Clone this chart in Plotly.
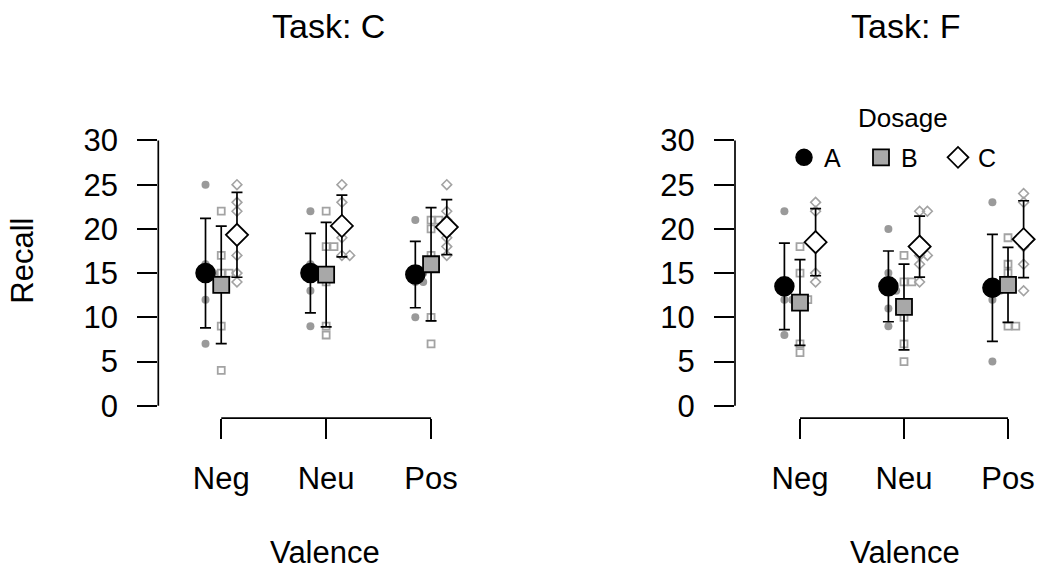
import plotly.graph_objects as go

valence = ["Neg", "Neu", "Pos"]
dosage = ["A", "B", "C"]

# Task C: individual observations per valence (Neg, Neu, Pos)
pts_C_A = [[25, 16, 15, 15, 12, 7], [22, 16, 15, 15, 13, 9], [21, 15, 15, 14, 14, 10]]
pts_C_B = [[22, 17, 15, 15, 9, 4], [22, 18, 18, 14, 9, 8], [21, 21, 20, 17, 10, 7]]
pts_C_C = [[25, 23, 22, 17, 15, 14], [25, 23, 21, 19, 17, 17], [25, 22, 21, 19, 18, 17]]
mean_C_A = [15.0, 15.0, 14.83]
mean_C_B = [13.67, 14.83, 16.0]
mean_C_C = [19.33, 20.33, 20.2]
ci_C_A = [6.2, 4.5, 3.75]
ci_C_B = [6.65, 5.9, 6.4]
ci_C_C = [4.8, 3.5, 3.1]

# Task F
pts_F_A = [[22, 14, 13, 12, 12, 8], [20, 15, 13, 13, 11, 9], [23, 14, 13, 13, 12, 5]]
pts_F_B = [[18, 15, 12, 12, 7, 6], [17, 14, 14, 10, 7, 5], [19, 16, 15, 14, 9, 9]]
pts_F_C = [[23, 22, 19, 18, 15, 14], [22, 22, 17, 17, 16, 14], [24, 23, 19, 18, 16, 13]]
mean_F_A = [13.5, 13.5, 13.33]
mean_F_B = [11.67, 11.17, 13.67]
mean_F_C = [18.5, 18.0, 18.83]
ci_F_A = [4.9, 4.0, 6.05]
ci_F_B = [4.85, 4.85, 4.25]
ci_F_C = [3.8, 3.45, 4.35]

FONT = "Liberation Sans, Arial, sans-serif"
dodge = {"A": -0.15, "B": 0.0, "C": 0.15}
swarm_step = 0.075

FW, FH = 1039, 576


def pxx(px):
    return px / FW


def pxy(py):
    return 1 - py / FH


pt_style = {
    "A": dict(symbol="circle", size=8, color="#9a9a9a", line=dict(width=0)),
    "B": dict(symbol="square-open", size=7, color="#a3a3a3", line=dict(width=1.8, color="#a3a3a3")),
    "C": dict(symbol="diamond-open", size=7.5, color="#a3a3a3", line=dict(width=1.6, color="#a3a3a3")),
}
mean_style = {
    "A": dict(symbol="circle", size=19, color="black", line=dict(width=1.5, color="black")),
    "B": dict(symbol="square", size=16, color="#a8a8a8", line=dict(width=1.8, color="black")),
    "C": dict(symbol="diamond", size=17, color="white", line=dict(width=1.8, color="black")),
}

panels = [
    ("x", "y", {"A": pts_C_A, "B": pts_C_B, "C": pts_C_C},
     {"A": mean_C_A, "B": mean_C_B, "C": mean_C_C},
     {"A": ci_C_A, "B": ci_C_B, "C": ci_C_C}, True),
    ("x2", "y2", {"A": pts_F_A, "B": pts_F_B, "C": pts_F_C},
     {"A": mean_F_A, "B": mean_F_B, "C": mean_F_C},
     {"A": ci_F_A, "B": ci_F_B, "C": ci_F_C}, False),
]

fig = go.Figure()

for xa, ya, pts, means, cis, show in panels:
    for d in dosage:
        xs, ys = [], []
        for i, vals in enumerate(pts[d]):
            seen = {}
            for v in vals:
                k = seen.get(v, 0)
                seen[v] = k + 1
                xs.append(i + 1 + dodge[d] + k * swarm_step)
                ys.append(v)
        fig.add_trace(go.Scatter(x=xs, y=ys, mode="markers", marker=pt_style[d],
                                 xaxis=xa, yaxis=ya, showlegend=False, hoverinfo="skip"))
    for d in dosage:
        xs = [i + 1 + dodge[d] for i in range(len(valence))]
        fig.add_trace(go.Scatter(
            x=xs, y=means[d], mode="markers", name=d, marker=mean_style[d],
            error_y=dict(type="data", array=cis[d], visible=True, color="black",
                         thickness=1.7, width=5.5),
            xaxis=xa, yaxis=ya, showlegend=show))

ydom = [pxy(421.7), pxy(119.4)]
yrange = [-1.39, 32.5]

axis_common = dict(showgrid=False, zeroline=False, showline=False, ticks="outside",
                   ticklen=20, tickwidth=1.7, tickcolor="black",
                   tickfont=dict(family=FONT, size=31, color="black"))

fig.update_layout(
    width=FW, height=FH,
    margin=dict(l=0, r=0, t=0, b=0),
    paper_bgcolor="white", plot_bgcolor="white",
    xaxis=dict(domain=[pxx(158.3), pxx(494)], range=[0.4, 3.6], tickvals=[1, 2, 3],
               ticktext=valence, ticklabelstandoff=13, **axis_common),
    yaxis=dict(domain=ydom, range=yrange, tickvals=[0, 5, 10, 15, 20, 25, 30],
               ticklabelstandoff=13, **axis_common),
    xaxis2=dict(domain=[pxx(735), 1.0], range=[0.375, 3.298], tickvals=[1, 2, 3],
                ticktext=valence, ticklabelstandoff=13, anchor="y2", **axis_common),
    yaxis2=dict(domain=ydom, range=yrange, tickvals=[0, 5, 10, 15, 20, 25, 30],
                ticklabelstandoff=13, anchor="x2", **axis_common),
    legend=dict(orientation="h", x=pxx(784), xanchor="left", y=pxy(159), yanchor="middle",
                font=dict(family=FONT, size=25, color="black"),
                bgcolor="rgba(0,0,0,0)", itemwidth=30, entrywidth=32, entrywidthmode="pixels"),
    showlegend=True,
)

for xa, ya in [("x", "y"), ("x2", "y2")]:
    fig.add_shape(type="line", xref=f"{xa} domain", x0=0, x1=0, yref=ya, y0=0, y1=30,
                  line=dict(color="black", width=1.7))
    fig.add_shape(type="line", xref=xa, x0=1, x1=3, yref=f"{ya} domain", y0=0, y1=0,
                  line=dict(color="black", width=1.7))

ann_font = dict(family=FONT, size=31, color="black")
for txt, xc in [("Task: C", 328), ("Task: F", 906)]:
    fig.add_annotation(text=txt, x=pxx(xc), y=pxy(26), xref="paper", yref="paper",
                       xanchor="center", yanchor="middle", showarrow=False,
                       font=dict(family=FONT, size=34, color="black"))
for xc in [325, 905]:
    fig.add_annotation(text="Valence", x=pxx(xc), y=pxy(557), xref="paper", yref="paper",
                       xanchor="center", yanchor="middle", showarrow=False, font=ann_font)
fig.add_annotation(text="Recall", x=pxx(23), y=pxy(263), xref="paper", yref="paper",
                   xanchor="center", yanchor="middle", showarrow=False, textangle=-90, font=ann_font)
fig.add_annotation(text="Dosage", x=pxx(902.5), y=pxy(119), xref="paper", yref="paper",
                   xanchor="center", yanchor="middle", showarrow=False,
                   font=dict(family=FONT, size=26, color="black"))

fig.write_html("out.html", config={"displayModeBar": False},
               post_script="document.body.style.margin='0';document.body.style.overflow='hidden';")
